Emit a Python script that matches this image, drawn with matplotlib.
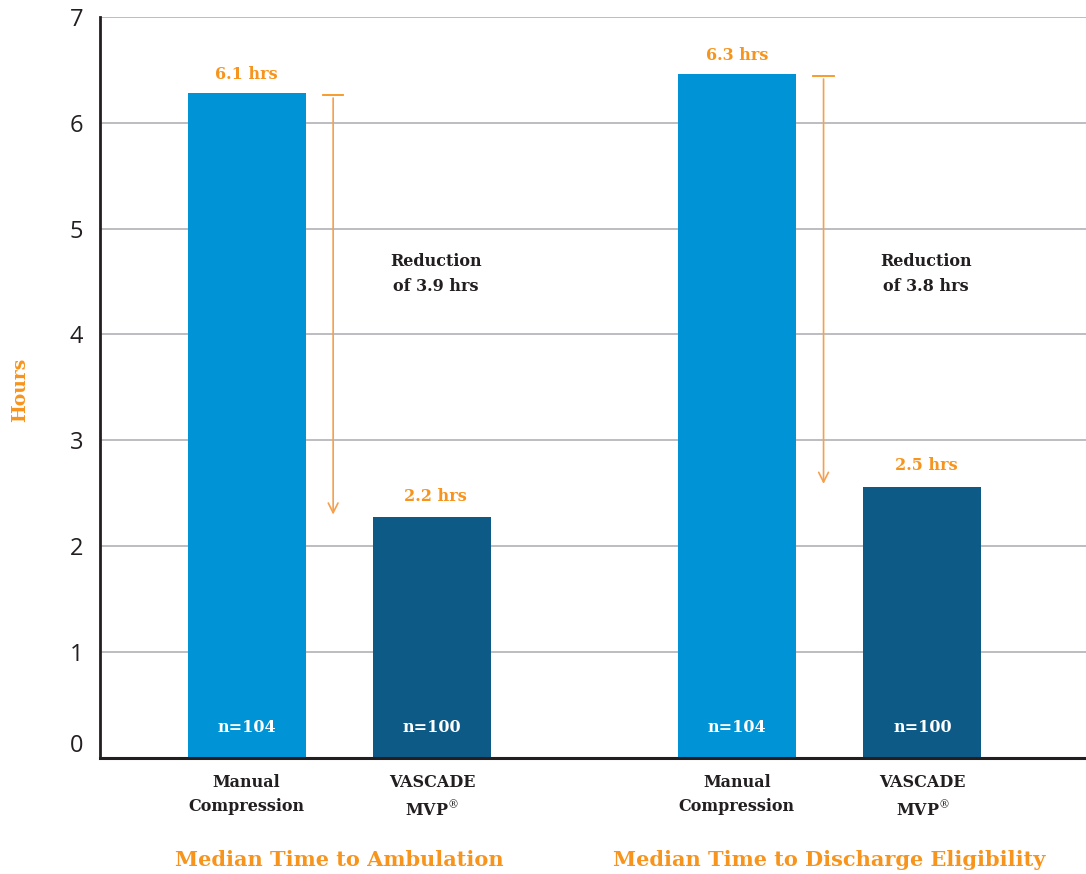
import matplotlib
matplotlib.use("Agg")
import matplotlib.pyplot as plt
import numpy as np

plt.rcParams["mathtext.fontset"] = "dejavuserif"

# donnees
groups = ["Median Time to Ambulation", "Median Time to Discharge Eligibility"]
devices = ["Manual\nCompression", "VASCADE\nMVP$^{\\circledR}$"]
manual_hours = [6.28, 6.46]      # hauteur des barres
vascade_hours = [2.27, 2.56]
manual_labels = ["6.1 hrs", "6.3 hrs"]
vascade_labels = ["2.2 hrs", "2.5 hrs"]
reduction_labels = ["Reduction\nof 3.9 hrs", "Reduction\nof 3.8 hrs"]
n_labels = ["n=104", "n=100"]

ORANGE = "#f7941d"
LIGHT = "#0093d6"
DARK = "#0d5a87"
INK = "#231f20"
SLAB = "DejaVu Serif"

fig = plt.figure(figsize=(10.86, 8.74), dpi=100)
ax = fig.add_axes([100 / 1086, 1 - 757.5 / 874, 986 / 1086, 740.5 / 874])

gap = 2.644
width = 0.636
x_manual = np.arange(len(groups)) * gap
x_vascade = x_manual + 1

ax.bar(x_manual, manual_hours, width, color=LIGHT, zorder=2)
ax.bar(x_vascade, vascade_hours, width, color=DARK, zorder=2)

for i in range(len(groups)):
    ax.text(x_manual[i], manual_hours[i] + 0.18, manual_labels[i], ha="center", va="center",
            color=ORANGE, fontsize=11.5, fontweight="bold", family=SLAB)
    ax.text(x_vascade[i] + 0.02, vascade_hours[i] + 0.2, vascade_labels[i], ha="center", va="center",
            color=ORANGE, fontsize=11.5, fontweight="bold", family=SLAB)
    ax.text(x_manual[i], 0.28, n_labels[0], ha="center", va="center",
            color="white", fontsize=11.5, fontweight="bold", family=SLAB)
    ax.text(x_vascade[i], 0.28, n_labels[1], ha="center", va="center",
            color="white", fontsize=11.5, fontweight="bold", family=SLAB)
    # fleche de reduction
    xa = x_manual[i] + 0.467
    ax.annotate("", xy=(xa, vascade_hours[i]), xytext=(xa, manual_hours[i] - 0.02),
                arrowprops=dict(arrowstyle="->,head_length=0.5,head_width=0.25",
                                color="#f6a04d", lw=1.2, mutation_scale=14), zorder=3)
    ax.plot([xa - 0.055, xa + 0.055], [manual_hours[i] - 0.02] * 2, color=ORANGE, lw=1.3, zorder=3)
    ax.text(x_vascade[i] + 0.02, 4.57, reduction_labels[i], ha="center", va="center",
            color=INK, fontsize=11.5, fontweight="bold", family=SLAB, linespacing=1.55)
    ax.text((x_manual[i] + x_vascade[i]) / 2, -0.138, groups[i], transform=ax.get_xaxis_transform(),
            ha="center", va="center", color=ORANGE, fontsize=15, fontweight="bold", family=SLAB)

ax.set_xlim(-0.79, 4.526)
ax.set_ylim(0, 7)
ax.set_yticks(range(8))
ax.set_yticklabels([str(v) for v in range(8)], family="Open Sans", fontsize=17, color=INK)
ax.tick_params(axis="y", length=0, pad=12)
ax.set_xticks(list(x_manual) + list(x_vascade))
ax.set_xticklabels([devices[0]] * 2 + [devices[1]] * 2, family=SLAB, fontweight="bold",
                   fontsize=11.5, color=INK, linespacing=1.55, va="top")
ax.tick_params(axis="x", length=0, pad=12)
# le "0" est un peu au dessus de l'axe dans l'original
ax.get_yticklabels()[0].set_va("bottom")

ax.grid(axis="y", color="#b8b8bc", lw=1.3, zorder=0)
ax.set_axisbelow(True)
for s in ["top", "right"]:
    ax.spines[s].set_visible(False)
ax.spines["left"].set_linewidth(2)
ax.spines["left"].set_color(INK)
ax.spines["bottom"].set_linewidth(2.2)
ax.spines["bottom"].set_color(INK)

fig.text(20 / 1086, 1 - 390 / 874, "Hours", rotation=90, ha="center", va="center",
         color=ORANGE, fontsize=13.5, fontweight="bold", family=SLAB)

fig.savefig("out.png", dpi=100)
